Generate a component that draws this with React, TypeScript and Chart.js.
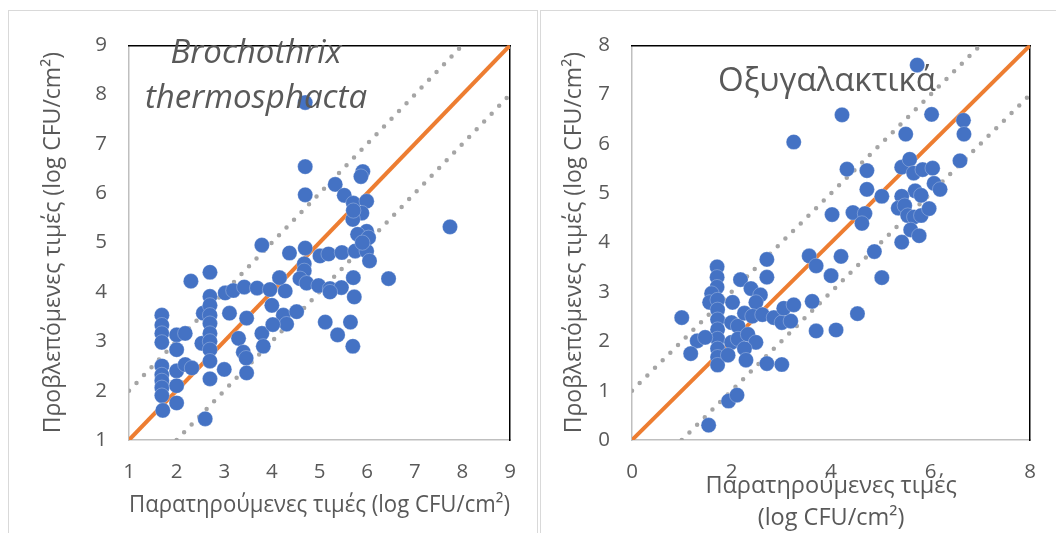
import React, { useEffect, useRef } from "react";
import { Chart, registerables } from "chart.js";

Chart.register(...registerables);

// ---- Brochothrix thermosphacta (left panel) ----
const btObserved = [
  1.69, 1.69, 1.69, 1.69, 1.69, 1.69, 1.69, 1.69, 1.69, 1.71,
  2.0, 2.18, 2.0, 2.0, 2.18, 2.32, 2.0, 2.0, 2.3, 2.53,
  2.56, 2.6, 2.7, 2.7, 2.7, 2.7, 2.7, 2.7, 2.7, 2.7,
  2.7, 2.7, 3.02, 3.19, 3.42, 3.69, 3.96, 4.28, 4.16, 3.11,
  3.47, 3.3, 3.4, 3.46, 3.47, 3.0, 3.79, 3.82, 4.0, 4.24,
  4.31, 4.02, 4.52, 3.79, 4.37, 4.7, 4.7, 4.7, 4.7, 4.68,
  4.68, 4.59, 4.73, 5.01, 5.19, 5.47, 5.75, 5.99, 6.05, 4.98,
  5.22, 5.46, 5.71, 5.73, 5.22, 5.12, 5.65, 5.38, 5.7, 6.45,
  7.74, 5.91, 5.87, 5.33, 5.52, 5.71, 5.99, 5.89, 5.7, 5.99,
  5.8, 6.03, 5.71, 5.9,
];
const btPredicted = [
  3.53, 3.33, 3.16, 2.98, 2.5, 2.32, 2.2, 2.06, 1.9, 1.6,
  3.13, 3.16, 2.83, 2.4, 2.53, 2.46, 2.1, 1.75, 4.22, 2.96,
  3.57, 1.43, 4.4, 3.91, 3.73, 3.53, 3.36, 3.16, 3.0, 2.83,
  2.6, 2.24, 3.98, 4.03, 4.1, 4.08, 4.05, 4.02, 4.29, 3.57,
  3.47, 3.06, 2.78, 2.66, 2.36, 2.43, 3.16, 2.9, 3.73, 3.53,
  3.35, 3.34, 3.6, 4.95, 4.79, 7.84, 6.54, 5.97, 4.89, 4.57,
  4.43, 4.27, 4.18, 4.73, 4.77, 4.8, 4.83, 4.83, 4.63, 4.13,
  4.07, 4.09, 4.29, 3.9, 4.0, 3.39, 3.39, 3.13, 2.9, 4.27,
  5.32, 6.44, 6.34, 6.18, 5.96, 5.8, 5.84, 5.6, 5.47, 5.23,
  5.17, 5.1, 5.65, 5.0,
];
const btRange = [1, 9];
const btXStep = 1;
const btIdentity = [1, 9];
const btUpperBand = [1, 8];
const btLowerBand = [2, 9];
const btTitle = ["Brochothrix", "thermosphacta"];

// ---- Οξυγαλακτικά (right panel) ----
const labObserved = [
  1.71, 1.71, 1.71, 1.6, 1.56, 1.72, 1.72, 1.72, 1.72, 1.72,
  1.72, 1.72, 1.72, 1.0, 1.31, 1.47, 1.18, 2.02, 2.18, 2.39,
  2.58, 2.49, 2.71, 2.71, 2.0, 2.13, 2.26, 2.42, 2.62, 2.85,
  3.01, 3.19, 3.05, 3.25, 2.0, 2.13, 2.33, 2.49, 1.93, 2.26,
  2.29, 2.71, 3.01, 1.94, 2.11, 1.54, 3.56, 3.7, 4.0, 3.62,
  3.7, 4.1, 4.2, 4.87, 5.02, 4.53, 4.02, 4.44, 4.68, 4.62,
  4.32, 4.72, 4.72, 5.02, 5.42, 5.58, 5.66, 5.84, 6.04, 6.59,
  6.07, 6.19, 5.69, 5.81, 5.42, 5.35, 5.48, 5.54, 5.67, 5.81,
  5.97, 5.6, 5.77, 5.42, 5.73, 4.22, 3.25, 6.02, 5.5, 6.66,
  6.67,
];
const labPredicted = [
  3.51, 3.3, 3.1, 2.97, 2.79, 2.84, 2.64, 2.44, 2.24, 2.05,
  1.85, 1.68, 1.52, 2.48, 2.01, 2.08, 1.75, 2.79, 3.25, 3.07,
  2.94, 2.79, 3.66, 3.3, 2.38, 2.31, 2.57, 2.51, 2.54, 2.48,
  2.38, 2.41, 2.67, 2.74, 1.98, 2.05, 2.14, 1.98, 1.72, 1.85,
  1.62, 1.55, 1.53, 0.79, 0.91, 0.3, 3.73, 3.53, 3.33, 2.81,
  2.21, 2.23, 3.72, 3.82, 3.29, 2.56, 4.57, 4.61, 4.59, 4.39,
  5.49, 5.46, 5.08, 4.94, 5.53, 5.69, 5.41, 5.48, 5.51, 5.66,
  5.2, 5.08, 5.05, 4.96, 4.94, 4.7, 4.75, 4.55, 4.52, 4.55,
  4.69, 4.26, 4.14, 4.01, 7.6, 6.59, 6.04, 6.6, 6.2, 6.48,
  6.2,
];
const labRange = [0, 8];
const labXStep = 2;
const labIdentity = [0, 8];
const labUpperBand = [0, 7];
const labLowerBand = [1, 8];
const labTitle = "Οξυγαλακτικά";

const bandOffset = 1;
const yAxisTitle = "Προβλεπόμενες τιμές (log CFU/cm²)";
const btXAxisTitle = "Παρατηρούμενες τιμές (log CFU/cm²)";
const labXAxisTitle = ["Παρατηρούμενες τιμές", "(log CFU/cm²)"];

const FONT = "'Open Sans', 'Noto Sans', sans-serif";
const TEXT = "#595959";

type PanelOpts = {
  xs: number[];
  ys: number[];
  range: number[];
  xStep: number;
  identity: number[];
  upper: number[];
  lower: number[];
  xTitle: string | string[];
  xTitleLineHeight: number;
  padding: { left: number; top: number; right: number; bottom: number };
  yWidth: number;
  xHeight: number;
};

function makeConfig(p: PanelOpts): any {
  const points = p.xs.map((x, i) => ({ x, y: p.ys[i] }));
  const seg = (xs: number[], off: number) => xs.map((x) => ({ x, y: x + off }));
  const frame = (pos: string) => ({
    type: "linear",
    position: pos,
    display: true,
    ticks: { display: false },
    grid: { display: false, drawTicks: false },
    border: { display: true, color: "#000000", width: 1.5 },
    afterFit: (s: any) => {
      if (pos === "top") s.height = 0;
      else s.width = 0;
    },
  });
  return {
    type: "scatter",
    data: {
      datasets: [
        {
          data: points,
          backgroundColor: "#4472C4",
          borderColor: "rgba(255,255,255,0.35)",
          borderWidth: 0.75,
          pointRadius: 7.6,
          pointHoverRadius: 7.6,
        },
        {
          type: "line",
          data: seg(p.identity, 0),
          borderColor: "#ED7D31",
          borderWidth: 4,
          pointRadius: 0,
          fill: false,
        },
        {
          type: "line",
          data: seg(p.upper, bandOffset),
          borderColor: "#A5A5A5",
          borderWidth: 4.5,
          borderDash: [0, 10.8],
          borderCapStyle: "round",
          pointRadius: 0,
          fill: false,
        },
        {
          type: "line",
          data: seg(p.lower, -bandOffset),
          borderColor: "#A5A5A5",
          borderWidth: 4.5,
          borderDash: [0, 10.8],
          borderCapStyle: "round",
          pointRadius: 0,
          fill: false,
        },
      ],
    },
    options: {
      responsive: false,
      animation: false,
      events: [],
      layout: { padding: p.padding },
      plugins: { legend: { display: false }, tooltip: { enabled: false } },
      scales: {
        x: {
          type: "linear",
          position: "bottom",
          min: p.range[0],
          max: p.range[1],
          ticks: {
            stepSize: p.xStep,
            color: TEXT,
            font: { family: FONT, size: 20.5 },
            padding: 20,
            maxRotation: 0,
            autoSkip: false,
          },
          grid: { display: false, drawTicks: false },
          border: { display: true, color: "#BFBFBF", width: 1.5 },
          title: {
            display: true,
            text: p.xTitle,
            color: TEXT,
            font: { family: FONT, size: 23.5, lineHeight: p.xTitleLineHeight },
            padding: { top: 0, bottom: 0 },
          },
          afterFit: (s: any) => {
            s.height = p.xHeight;
          },
        },
        y: {
          type: "linear",
          position: "left",
          min: p.range[0],
          max: p.range[1],
          ticks: {
            stepSize: 1,
            color: TEXT,
            font: { family: FONT, size: 20.5 },
            padding: 22,
          },
          grid: { display: false, drawTicks: false },
          border: { display: true, color: "#BFBFBF", width: 1.5 },
          title: {
            display: true,
            text: yAxisTitle,
            color: TEXT,
            font: { family: FONT, size: 23, lineHeight: 1.2 },
            padding: { top: 0, bottom: 0 },
          },
          afterFit: (s: any) => {
            s.width = p.yWidth;
          },
        },
        x2: frame("top"),
        y2: frame("right"),
      },
    },
  };
}

export default function App() {
  const leftRef = useRef<HTMLCanvasElement>(null);
  const rightRef = useRef<HTMLCanvasElement>(null);

  useEffect(() => {
    const charts: Chart[] = [];
    if (leftRef.current) {
      charts.push(
        new Chart(
          leftRef.current,
          makeConfig({
            xs: btObserved,
            ys: btPredicted,
            range: btRange,
            xStep: btXStep,
            identity: btIdentity,
            upper: btUpperBand,
            lower: btLowerBand,
            xTitle: btXAxisTitle,
            xTitleLineHeight: 1.2,
            padding: { left: 31, top: 28, right: 27, bottom: 21.9 },
            yWidth: 89,
            xHeight: 79.1,
          })
        )
      );
    }
    if (rightRef.current) {
      charts.push(
        new Chart(
          rightRef.current,
          makeConfig({
            xs: labObserved,
            ys: labPredicted,
            range: labRange,
            xStep: labXStep,
            identity: labIdentity,
            upper: labUpperBand,
            lower: labLowerBand,
            xTitle: labXAxisTitle,
            xTitleLineHeight: 1.34,
            padding: { left: 19, top: 25, right: 18, bottom: 7.25 },
            yWidth: 71,
            xHeight: 93.75,
          })
        )
      );
    }
    return () => charts.forEach((c) => c.destroy());
  }, []);

  const titleBase: React.CSSProperties = {
    position: "absolute",
    width: 400,
    textAlign: "center",
    color: TEXT,
    fontFamily: FONT,
    fontSize: 33,
    lineHeight: "45px",
    pointerEvents: "none",
    whiteSpace: "nowrap",
  };

  return (
    <div
      style={{
        position: "fixed",
        left: 0,
        top: 0,
        width: 1056,
        height: 533,
        overflow: "hidden",
        background: "#ffffff",
      }}
    >
      <div
        style={{
          position: "absolute",
          left: 8,
          top: 10,
          width: 530,
          height: 600,
          boxSizing: "border-box",
          border: "1.5px solid #D9D9D9",
        }}
      />
      <div
        style={{
          position: "absolute",
          left: 540,
          top: 10,
          width: 600,
          height: 600,
          boxSizing: "border-box",
          border: "1.5px solid #D9D9D9",
        }}
      />
      <canvas
        ref={leftRef}
        width={528}
        height={530}
        style={{ position: "absolute", left: 9, top: 11, width: 528, height: 530 }}
      />
      <canvas
        ref={rightRef}
        width={514}
        height={530}
        style={{ position: "absolute", left: 542, top: 11, width: 514, height: 530 }}
      />
      <div style={{ ...titleBase, left: 56, top: 27.5, fontStyle: "italic" }}>
        {btTitle[0]}
        <br />
        {btTitle[1]}
      </div>
      <div style={{ ...titleBase, left: 627, top: 55.5 }}>{labTitle}</div>
    </div>
  );
}
